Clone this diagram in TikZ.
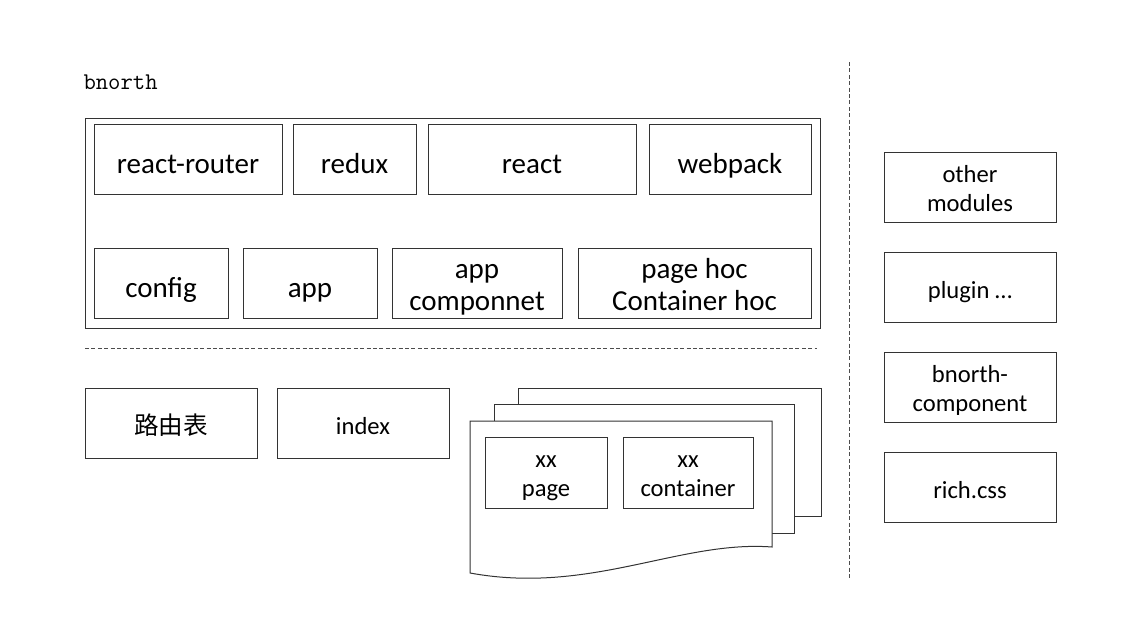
\documentclass[tikz,border=0pt]{standalone}
\usepackage{fontspec}
\setmainfont{Carlito}
\newfontfamily\cjk{Noto Sans CJK SC}
\usetikzlibrary{positioning}
\newcommand{\topstrut}{\rule{0pt}{1.3em}}
\newcommand{\botstrut}{\rule[-0.33em]{0pt}{0pt}}
\newcommand{\mtopstrut}{\rule{0pt}{1.05em}}
\newcommand{\mbotstrut}{\rule[-0.25em]{0pt}{0pt}}

\begin{document}
\begin{tikzpicture}[x=0.5pt,y=-0.5pt,line width=0.5pt,
                    blk/.style={draw=black!80,inner sep=0pt,outer sep=0pt,
                                minimum height=35pt,align=center,
                                font=\fontsize{14.5}{16}\selectfont},
                    sblk/.style={blk,font=\fontsize{12.3}{14.5}\selectfont,minimum width=86pt},
                    sep/.style={draw=black!70,dash pattern=on 2pt off 1.2pt}]
  \useasboundingbox (0,0) rectangle (1141,643);

  % title
  \node[anchor=west,inner sep=0pt,font=\ttfamily\fontsize{12}{13}\selectfont] (title) at (83,82) {bnorth};

  % framework block
  \node[draw=black!80,inner sep=0pt,minimum width=367.5pt,minimum height=105pt] (core) at (452.5,223) {};
  \node[blk,minimum width=94pt]   (router)  at (188,159)   {\topstrut react-router\botstrut};
  \node[blk,minimum width=61.5pt] (redux)   at (354.5,159) {\topstrut redux\botstrut};
  \node[blk,minimum width=104pt]  (react)   at (532,159)   {\topstrut react\botstrut};
  \node[blk,minimum width=81pt]   (webpack) at (730,159)   {\topstrut webpack\botstrut};
  \node[blk,minimum width=67pt]   (config)  at (161,283)   {\topstrut config\botstrut};
  \node[blk,minimum width=67pt]   (app)     at (310,283)   {\topstrut app\botstrut};
  \node[blk,minimum width=85pt]   (appcomp) at (477,283)   {\mtopstrut app\\componnet\mbotstrut};
  \node[blk,minimum width=116.5pt] (hoc)    at (694.5,283) {\mtopstrut page hoc\\Container hoc\mbotstrut};

  % separators
  \coordinate (hsepA) at (85,348);
  \coordinate (hsepB) at (817,348);
  \draw[sep] (hsepA) -- (hsepB);
  \coordinate (vsepA) at (849,62);
  \coordinate (vsepB) at (849,580);
  \draw[sep] (vsepA) -- (vsepB);

  % application part
  \node[sblk,font=\cjk\fontsize{12.3}{14.5}\selectfont] (routes) at (171,423) {\topstrut 路由表\botstrut};
  \node[sblk] (index) at (363,423) {\topstrut index\botstrut};

  % page stack
  \draw[draw=black!80,fill=white] (518,388) rectangle (821,516);
  \draw[draw=black!80,fill=white] (494,404) rectangle (794,533);
  \draw[draw=black!80,fill=white] (470,421) -- (772,421) -- (772,547)
        .. controls (680,540) and (590,595) .. (470,573) -- cycle;
  \node[sblk,minimum width=61pt,minimum height=35.5pt] (xxpage) at (546,472.5) {\mtopstrut xx\\page\mbotstrut};
  \node[sblk,minimum width=65pt,minimum height=35.5pt] (xxcont) at (688,472.5) {\mtopstrut xx\\container\mbotstrut};

  % side modules
  \node[sblk] (other)  at (970,187) {\mtopstrut other\\modules\mbotstrut};
  \node[sblk] (plugin) at (970,287) {\topstrut plugin …\botstrut};
  \node[sblk] (bcomp)  at (970,387) {\mtopstrut bnorth-\\component\mbotstrut};
  \node[sblk] (rich)   at (970,487) {\topstrut rich.css\botstrut};
\end{tikzpicture}
\end{document}
